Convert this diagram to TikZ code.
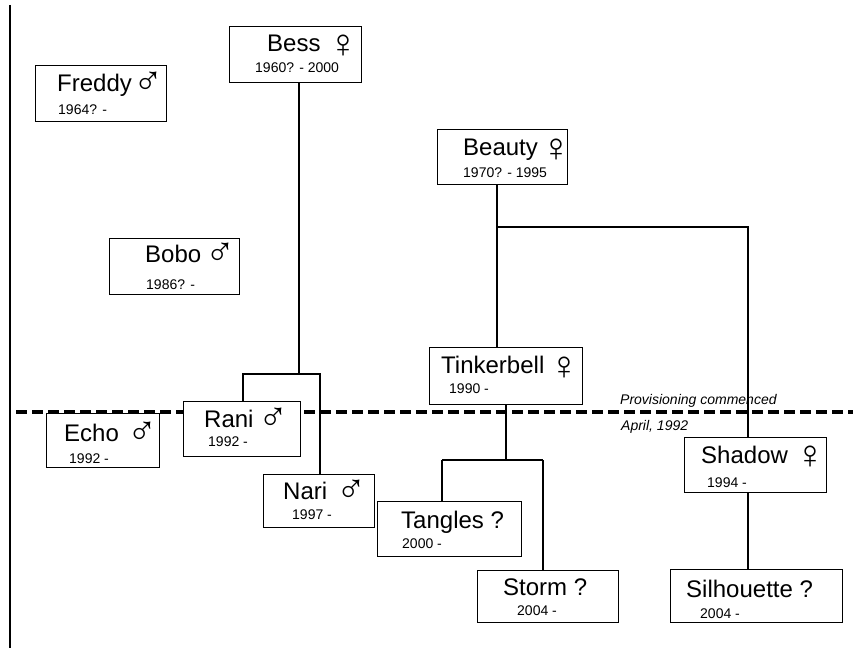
\documentclass[tikz,border=0pt]{standalone}
\usepackage{fontspec}
\setmainfont{Liberation Sans}
\begin{document}
\begin{tikzpicture}[x=1pt,y=1pt,
  box/.style={draw, line width=1.2pt, fill=white, inner sep=0pt, anchor=south west},
  nm/.style={font=\fontsize{24}{24}\selectfont, inner sep=0pt, anchor=base west},
  male/.style={font=\fontsize{40}{40}\selectfont, inner sep=0pt, anchor=base west, yshift=-3pt, xshift=-3pt},
  female/.style={font=\fontsize{40}{40}\selectfont, inner sep=0pt, anchor=base west, yshift=-6pt, xshift=-3pt},
  dt/.style={font=\fontsize{14}{14}\selectfont, inner sep=0pt, anchor=base west},
  note/.style={font=\itshape\fontsize{14}{15}\selectfont, inner sep=0pt, anchor=base west},
  link/.style={line width=1.3pt}]
\useasboundingbox (0,0) rectangle (853,648);
\fill[white] (0,0) rectangle (853,648);
% left border
\coordinate (bt) at (10,643);
\coordinate (bb) at (10,0);
\draw[line width=1.5pt] (bt) -- (bb);
% provisioning line
\coordinate (dl) at (16,236);
\coordinate (dr) at (853,236);
\draw[line width=4pt, dash pattern=on 11pt off 5pt] (dl) -- (dr);
% junction coordinates
\coordinate (jb) at (299,274);
\coordinate (jbl) at (243,274);
\coordinate (jbr) at (320,274);
\coordinate (ja) at (497,421);
\coordinate (jar) at (748,421);
\coordinate (jt) at (506,188);
\coordinate (jtl) at (442,188);
\coordinate (jtr) at (543,188);
% boxes
\node[box, minimum width=131, minimum height=56] (freddy) at (35,526) {};
\node[box, minimum width=132, minimum height=56] (bess) at (229,565) {};
\node[box, minimum width=130, minimum height=56] (bobo) at (109,353) {};
\node[box, minimum width=130, minimum height=55] (beauty) at (437,463) {};
\node[box, minimum width=153, minimum height=57] (tinker) at (429,243) {};
\node[box, minimum width=113, minimum height=54] (echo) at (46,180) {};
\node[box, minimum width=142, minimum height=55] (shadow) at (684,155) {};
% connectors
\draw[link] (bess.south -| jb) -- (jb);
\draw[link] (beauty.south -| ja) -- (ja |- tinker.north);
\draw[link] (ja) -- (jar) -- (jar |- shadow.north);
\draw[link] (tinker.south -| jt) -- (jt);
\draw[link] (jtl) -- (jtr);
% boxes over the line
\node[box, minimum width=117, minimum height=55] (rani) at (183,191) {};
\node[box, minimum width=111, minimum height=53] (nari) at (263,120) {};
\node[box, minimum width=144, minimum height=55] (tangles) at (377,91) {};
\node[box, minimum width=141, minimum height=52] (storm) at (477,25) {};
\node[box, minimum width=172, minimum height=53] (silh) at (670,25) {};
\draw[link] (jbl |- rani.north) -- (jbl) -- (jbr) -- (jbr |- nari.north);
\draw[link] (jtl |- tangles.north) -- (jtl);
\draw[link] (jtr) -- (jtr |- storm.north);
\draw[link] (shadow.south -| jar) -- (jar |- silh.north);
% texts
\node[nm] (freddyN) at (57,556) {Freddy};
\node[male] (freddyS) at (136,556) {♂};
\node[dt] (freddyD) at (58,533) {1964? -};
\node[nm] (bessN) at (267,596) {Bess};
\node[female] (bessS) at (331,596) {♀};
\node[dt] (bessD) at (255,575) {1960? - 2000};
\node[nm] (boboN) at (145,385) {Bobo};
\node[male] (boboS) at (208,385) {♂};
\node[dt] (boboD) at (146,358) {1986? -};
\node[nm] (beautyN) at (463,492) {Beauty};
\node[female] (beautyS) at (544,492) {♀};
\node[dt] (beautyD) at (463,470) {1970? - 1995};
\node[nm] (tinkerN) at (441,274) {Tinkerbell};
\node[female] (tinkerS) at (552,274) {♀};
\node[dt] (tinkerD) at (449,254) {1990 -};
\node[nm] (echoN) at (64,207) {Echo};
\node[male] (echoS) at (130,207) {♂};
\node[dt] (echoD) at (69,185) {1992 -};
\node[nm] (raniN) at (204,220) {Rani};
\node[male] (raniS) at (261,220) {♂};
\node[dt] (raniD) at (208,201) {1992 -};
\node[nm] (nariN) at (283,149) {Nari};
\node[male] (nariS) at (339,149) {♂};
\node[dt] (nariD) at (292,129) {1997 -};
\node[nm] (tanglesN) at (401,120) {Tangles ?};
\node[dt] (tanglesD) at (402,100) {2000 -};
\node[nm] (stormN) at (503,53) {Storm ?};
\node[dt] (stormD) at (517,33) {2004 -};
\node[nm] (shadowN) at (701,185) {Shadow};
\node[female] (shadowS) at (798,185) {♀};
\node[dt] (shadowD) at (707,161) {1994 -};
\node[nm] (silhN) at (686,51) {Silhouette ?};
\node[dt] (silhD) at (700,30) {2004 -};
\node[note] (prov) at (620,243) {Provisioning commenced};
\node[note] (april) at (621,218) {April, 1992};
\end{tikzpicture}
\end{document}
